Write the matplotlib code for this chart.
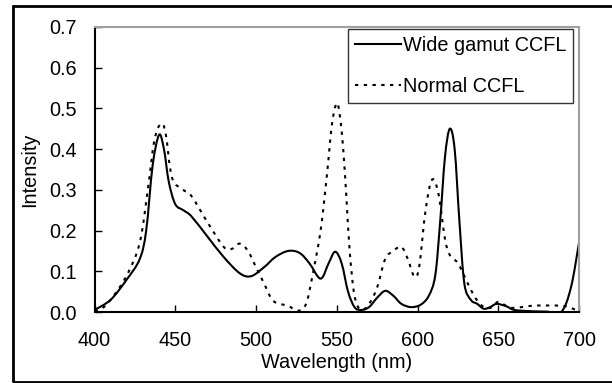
import matplotlib
matplotlib.use("Agg")
import matplotlib.pyplot as plt
from matplotlib.patches import Rectangle, PathPatch
from matplotlib.path import Path
from matplotlib.lines import Line2D
import numpy as np

plt.rcParams['font.family'] = ['Liberation Sans', 'DejaVu Sans']

wide_x = [400, 410, 420, 428, 432, 436, 440, 443, 446, 450, 455, 460, 470, 480, 490, 497,
          505, 512, 520, 527, 533, 540, 545, 549, 553, 557, 561, 565, 570, 575, 580, 585,
          590, 596, 602, 607, 611, 614, 617, 620, 623, 626, 629, 633, 637, 641, 645, 649,
          655, 660, 670, 680, 689, 695, 700]
wide_y = [0.005, 0.03, 0.08, 0.13, 0.2, 0.36, 0.435, 0.40, 0.32, 0.265, 0.25, 0.235, 0.185,
          0.135, 0.095, 0.088, 0.11, 0.135, 0.15, 0.145, 0.12, 0.082, 0.12, 0.148, 0.12, 0.05,
          0.012, 0.005, 0.012, 0.035, 0.052, 0.04, 0.02, 0.012, 0.018, 0.04, 0.09, 0.22, 0.38,
          0.45, 0.40, 0.22, 0.07, 0.03, 0.02, 0.008, 0.012, 0.02, 0.014, 0.005, 0.002, 0.001,
          0.0, 0.06, 0.17]

norm_x = [400, 405, 410, 420, 428, 433, 437, 441, 444, 448, 455, 460, 470, 480, 485, 490,
          495, 500, 505, 510, 515, 520, 526, 531, 535, 540, 544, 547, 550, 552, 554, 556,
          558, 561, 565, 570, 575, 580, 585, 590, 594, 598, 601, 605, 609, 613, 617, 620,
          625, 630, 635, 640, 645, 650, 655, 660, 670, 680, 690, 695, 700]
norm_y = [0.002, 0.01, 0.03, 0.09, 0.17, 0.3, 0.42, 0.462, 0.44, 0.33, 0.3, 0.285, 0.22,
          0.16, 0.155, 0.168, 0.15, 0.11, 0.07, 0.03, 0.02, 0.015, 0.003, 0.02, 0.09, 0.2,
          0.34, 0.46, 0.513, 0.48, 0.40, 0.28, 0.15, 0.04, 0.005, 0.02, 0.06, 0.13, 0.15,
          0.16, 0.13, 0.087, 0.11, 0.25, 0.325, 0.29, 0.18, 0.14, 0.12, 0.08, 0.04, 0.015,
          0.01, 0.025, 0.015, 0.01, 0.015, 0.016, 0.015, 0.01, 0.002]

xticks = [400, 450, 500, 550, 600, 650, 700]
yticks = [0.0, 0.1, 0.2, 0.3, 0.4, 0.5, 0.6, 0.7]

FS = 14.3


def smooth_path(xs, ys):
    """Excel-style smoothed line: cubic Bezier segments through the data points."""
    p = np.column_stack([xs, ys]).astype(float)
    n = len(p)
    verts = [p[0]]
    codes = [Path.MOVETO]
    for i in range(n - 1):
        p0 = p[i - 1] if i > 0 else p[i]
        p1 = p[i]
        p2 = p[i + 1]
        p3 = p[i + 2] if i + 2 < n else p[i + 1]
        c1 = p1 + (p2 - p0) / 6.0
        c2 = p2 - (p3 - p1) / 6.0
        verts += [c1, c2, p2]
        codes += [Path.CURVE4] * 3
    return Path(verts, codes)


fig = plt.figure(figsize=(6.12, 3.83), dpi=100)
ax = fig.add_axes([94.5/612, 1-312/383, (579-94.5)/612, (312-27)/383])

dotted = (0, (1.6, 2.6))
ax.add_patch(PathPatch(smooth_path(wide_x, wide_y), fill=False, edgecolor='black',
                       lw=1.5, transform=ax.transData))
ax.add_patch(PathPatch(smooth_path(norm_x, norm_y), fill=False, edgecolor='black',
                       lw=1.5, linestyle=dotted, transform=ax.transData))

ax.set_xlim(400, 700)
ax.set_ylim(0, 0.7)
ax.set_xticks(xticks)
ax.set_yticks(yticks)
ax.set_xticklabels([str(v) for v in xticks])
ax.set_yticklabels([f"{v:.1f}" for v in yticks])
ax.tick_params(direction='in', length=5, width=1, labelsize=FS, color='black')
ax.tick_params(axis='y', pad=13)
ax.tick_params(axis='x', pad=14)
for s in ['top', 'right']:
    ax.spines[s].set_color('#a0a0a0')
    ax.spines[s].set_linewidth(1.5)
for s in ['left', 'bottom']:
    ax.spines[s].set_color('black')
    ax.spines[s].set_linewidth(1.5)

ax.set_xlabel('Wavelength (nm)', fontsize=FS, labelpad=2)
ax.set_ylabel('Intensity', fontsize=FS, labelpad=7)

handles = [Line2D([], [], color='black', lw=1.5),
           Line2D([], [], color='black', lw=1.5, linestyle=dotted)]
labels = ['Wide gamut CCFL', 'Normal CCFL']
leg = ax.legend(handles, labels, loc='upper right',
                bbox_to_anchor=((573-94.5)/(579-94.5), 1-(29-27)/285),
                fontsize=FS, frameon=True, fancybox=False,
                edgecolor='black', handlelength=2.3, handletextpad=0.1,
                borderpad=0.35, labelspacing=1.1, borderaxespad=0.0)
leg.get_frame().set_linewidth(1.0)

fig.patches.append(Rectangle((12.5/612, 1-382/383), 1.0, (382-5.5)/383,
                             transform=fig.transFigure, fill=False,
                             edgecolor='black', lw=2, clip_on=False))

fig.savefig('out.png', dpi=100)
